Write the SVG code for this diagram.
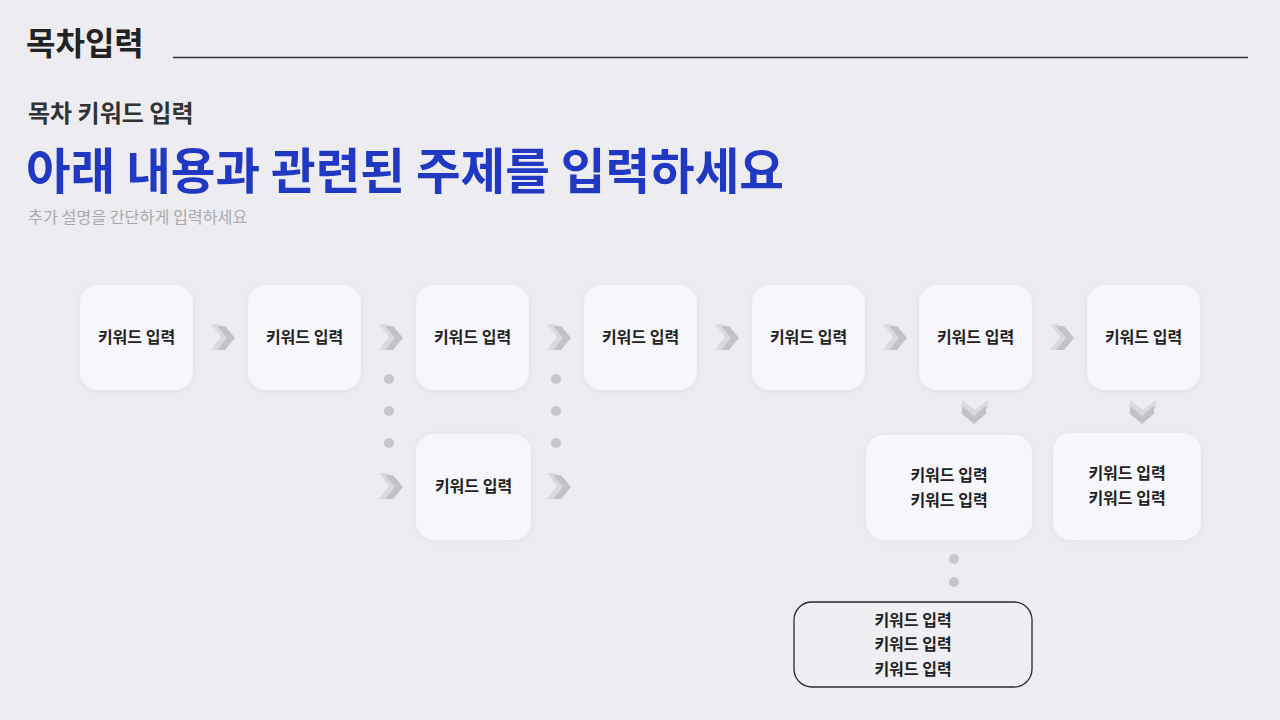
<svg xmlns="http://www.w3.org/2000/svg" width="1280" height="720" viewBox="0 0 1280 720">
<defs>
<style>
.bg{fill:#ededf1}
.node{fill:#f7f7fb}
.t{font-family:"Noto Sans CJK KR","Noto Sans",sans-serif;font-size:16px;font-weight:600;fill:#222;text-anchor:middle}
.dot{fill:#c6c6cb}
.chB{fill:#dadade}
.chF{fill:#c2c2c7}
</style>
<filter id="sh" x="-20%" y="-20%" width="140%" height="140%">
<feDropShadow dx="0" dy="1" stdDeviation="3" flood-color="#b0b0c0" flood-opacity="0.25"/>
</filter>
<g id="chev">
<polygon class="chB" points="-13,-13 -5,-13 5,0 -5,13 -13,13 -3,0"/>
<polygon class="chF" points="-7,-11 1,-11 11,1 1,13 -7,13 3,1"/>
</g>
</defs>
<rect class="bg" x="0" y="0" width="1280" height="720"/>

<g id="header">
<text x="26" y="55" font-family="Noto Sans CJK KR, sans-serif" font-size="32" font-weight="700" fill="#222">목차입력</text>
<line x1="173" y1="57.5" x2="1248" y2="57.5" stroke="#333" stroke-width="1.5"/>
<text x="28" y="122" font-family="Noto Sans CJK KR, sans-serif" font-size="24" font-weight="600" fill="#333">목차 키워드 입력</text>
<text x="26" y="189" font-family="Noto Sans CJK KR, sans-serif" font-size="48.5" font-weight="700" fill="#2139c2">아래 내용과 관련된 주제를 입력하세요</text>
<text x="28" y="223" font-family="Noto Sans CJK KR, sans-serif" font-size="16.2" font-weight="400" fill="#a8a8ae">추가 설명을 간단하게 입력하세요</text>
</g>

<g id="connectors">
<use href="#chev" x="224" y="337"/>
<use href="#chev" x="392" y="337"/>
<use href="#chev" x="560" y="337"/>
<use href="#chev" x="728" y="337"/>
<use href="#chev" x="896" y="337"/>
<use href="#chev" x="1063" y="337"/>
<use href="#chev" x="392" y="486"/>
<use href="#chev" x="560" y="486"/>
<use href="#chev" transform="translate(975,413) rotate(90)"/>
<use href="#chev" transform="translate(1143,413) rotate(90)"/>
<circle class="dot" cx="389" cy="379" r="5"/>
<circle class="dot" cx="389" cy="411" r="5"/>
<circle class="dot" cx="389" cy="443" r="5"/>
<circle class="dot" cx="556" cy="379" r="5"/>
<circle class="dot" cx="556" cy="411" r="5"/>
<circle class="dot" cx="556" cy="443" r="5"/>
<circle class="dot" cx="954" cy="559" r="5"/>
<circle class="dot" cx="954" cy="582" r="5"/>
</g>

<g id="n1"><rect class="node" filter="url(#sh)" x="80" y="285" width="113" height="105" rx="18"/><text class="t" x="136.5" y="343">키워드 입력</text></g>
<g id="n2"><rect class="node" filter="url(#sh)" x="248" y="285" width="113" height="105" rx="18"/><text class="t" x="304.5" y="343">키워드 입력</text></g>
<g id="n3"><rect class="node" filter="url(#sh)" x="416" y="285" width="113" height="105" rx="18"/><text class="t" x="472.5" y="343">키워드 입력</text></g>
<g id="n4"><rect class="node" filter="url(#sh)" x="584" y="285" width="113" height="105" rx="18"/><text class="t" x="640.5" y="343">키워드 입력</text></g>
<g id="n5"><rect class="node" filter="url(#sh)" x="752" y="285" width="113" height="105" rx="18"/><text class="t" x="808.5" y="343">키워드 입력</text></g>
<g id="n6"><rect class="node" filter="url(#sh)" x="919" y="285" width="113" height="105" rx="18"/><text class="t" x="975.5" y="343">키워드 입력</text></g>
<g id="n7"><rect class="node" filter="url(#sh)" x="1087" y="285" width="113" height="105" rx="18"/><text class="t" x="1143.5" y="343">키워드 입력</text></g>
<g id="n8"><rect class="node" filter="url(#sh)" x="416" y="434" width="115" height="106" rx="18"/><text class="t" x="473.5" y="492">키워드 입력</text></g>
<g id="n9"><rect class="node" filter="url(#sh)" x="866" y="435" width="166" height="105" rx="18"/><text class="t" x="949" y="481">키워드 입력</text><text class="t" x="949" y="506">키워드 입력</text></g>
<g id="n10"><rect class="node" filter="url(#sh)" x="1053" y="433" width="148" height="107" rx="18"/><text class="t" x="1127" y="479">키워드 입력</text><text class="t" x="1127" y="504">키워드 입력</text></g>
<g id="n11"><rect x="794" y="602" width="238" height="85" rx="18" fill="#efeff3" stroke="#2a2a2e" stroke-width="1.3"/><text class="t" x="913" y="626">키워드 입력</text><text class="t" x="913" y="650">키워드 입력</text><text class="t" x="913" y="675">키워드 입력</text></g>
</svg>
